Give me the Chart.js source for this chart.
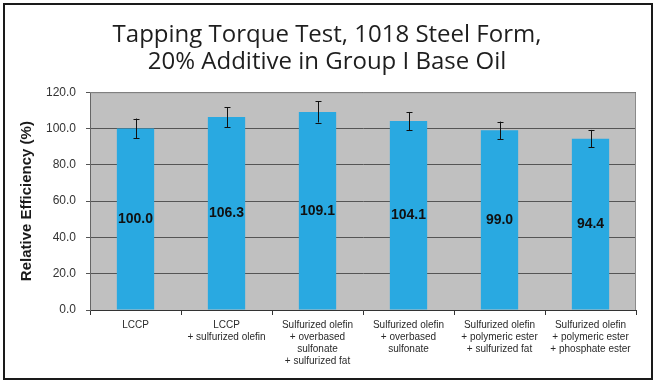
<!DOCTYPE html>
<html>
<head>
<meta charset="utf-8">
<script src="https://cdn.jsdelivr.net/npm/chart.js@4"></script>
<style>
  html, body { margin: 0; padding: 0; background: #fff; }
  #wrap { position: relative; width: 655px; height: 384px; }
  #frame { position: absolute; left: 3px; top: 3px; width: 646px; height: 373px; border: 2px solid #1a1a1a; pointer-events: none; }
</style>
</head>
<body>
<div id="wrap">
  <canvas id="effChart" width="655" height="384"></canvas>
  <div id="frame"></div>
</div>
<script>
// Tapping torque test - relative efficiency per additive package
const categories = [
  ["LCCP"],
  ["LCCP", "+ sulfurized olefin"],
  ["Sulfurized olefin", "+ overbased", "sulfonate", "+ sulfurized fat"],
  ["Sulfurized olefin", "+ overbased", "sulfonate"],
  ["Sulfurized olefin", "+ polymeric ester", "+ sulfurized fat"],
  ["Sulfurized olefin", "+ polymeric ester", "+ phosphate ester"]
];
const efficiency = [100.0, 106.3, 109.1, 104.1, 99.0, 94.4];
const errorPlusMinus = [5.5, 5.5, 5.8, 5.0, 4.8, 4.8];

// gray plot background + frame
const plotBg = {
  id: "plotBg",
  beforeDraw(chart) {
    const a = chart.chartArea, c = chart.ctx;
    c.save();
    c.fillStyle = "#c0c0c0";
    c.fillRect(a.left, a.top, a.right - a.left, a.bottom - a.top);
    c.restore();
  },
  afterDatasetsDraw(chart) {
    const a = chart.chartArea, c = chart.ctx;
    c.save();
    c.strokeStyle = "#8a8a8a";
    c.lineWidth = 1;
    c.beginPath();
    c.moveTo(a.left, a.top + 0.5);
    c.lineTo(a.right - 0.5, a.top + 0.5);
    c.lineTo(a.right - 0.5, a.bottom);
    c.stroke();
    c.restore();
  }
};

// error bars and value labels in the middle of each bar
const barExtras = {
  id: "barExtras",
  afterDatasetsDraw(chart) {
    const c = chart.ctx, y = chart.scales.y;
    const meta = chart.getDatasetMeta(0);
    c.save();
    meta.data.forEach((bar, i) => {
      const v = efficiency[i], e = errorPlusMinus[i];
      const yTop = y.getPixelForValue(v + e), yBot = y.getPixelForValue(v - e);
      const x = Math.round(bar.x) + 0.5;
      c.strokeStyle = "#111";
      c.lineWidth = 1;
      c.beginPath();
      c.moveTo(x, yTop); c.lineTo(x, yBot);
      c.moveTo(x - 3, Math.round(yTop) + 0.5); c.lineTo(x + 3, Math.round(yTop) + 0.5);
      c.moveTo(x - 3, Math.round(yBot) + 0.5); c.lineTo(x + 3, Math.round(yBot) + 0.5);
      c.stroke();
      c.fillStyle = "#111";
      c.font = "bold 14px Arial, 'Liberation Sans', sans-serif";
      c.textAlign = "center";
      c.textBaseline = "middle";
      c.fillText(v.toFixed(1), bar.x, y.getPixelForValue(v / 2));
    });
    c.restore();
  }
};

new Chart(document.getElementById("effChart").getContext("2d"), {
  type: "bar",
  data: {
    labels: categories,
    datasets: [{
      data: efficiency,
      backgroundColor: "#29a9e1",
      borderWidth: 0,
      categoryPercentage: 1.0,
      barPercentage: 0.41
    }]
  },
  options: {
    responsive: false,
    animation: false,
    devicePixelRatio: 1,
    layout: { padding: { left: 18, right: 19, top: 4, bottom: 13 } },
    plugins: {
      legend: { display: false },
      tooltip: { enabled: false },
      title: {
        display: true,
        text: ["Tapping Torque Test, 1018 Steel Form,", "20% Additive in Group I Base Oil"],
        color: "#1e1e1e",
        font: { family: "'Open Sans', Roboto, sans-serif", size: 24, weight: "normal", lineHeight: 1.15 },
        padding: { top: 17, bottom: 16 }
      }
    },
    scales: {
      x: {
        grid: { display: true, drawOnChartArea: false, drawTicks: true, tickLength: 5, color: "#333", offset: true },
        border: { display: true, color: "#333" },
        ticks: {
          color: "#2a2a2a",
          padding: 4,
          maxRotation: 0,
          autoSkip: false,
          font: { family: "Arial, 'Liberation Sans', sans-serif", size: 10, lineHeight: 1.2 }
        }
      },
      y: {
        min: 0,
        max: 120,
        ticks: {
          stepSize: 20,
          color: "#333",
          padding: 10,
          font: { family: "Arial, 'Liberation Sans', sans-serif", size: 12 },
          callback: v => v.toFixed(1)
        },
        grid: { color: "#555", drawTicks: true, tickLength: 4 },
        border: { display: true, color: "#666" },
        title: {
          display: true,
          text: "Relative Efficiency (%)",
          color: "#1a1a1a",
          font: { family: "Arial, 'Liberation Sans', sans-serif", size: 15, weight: "bold" },
          padding: { top: 0, bottom: 4 }
        },
        afterFit(scale) { scale.width = 72; }
      }
    }
  },
  plugins: [plotBg, barExtras]
});
</script>
</body>
</html>
